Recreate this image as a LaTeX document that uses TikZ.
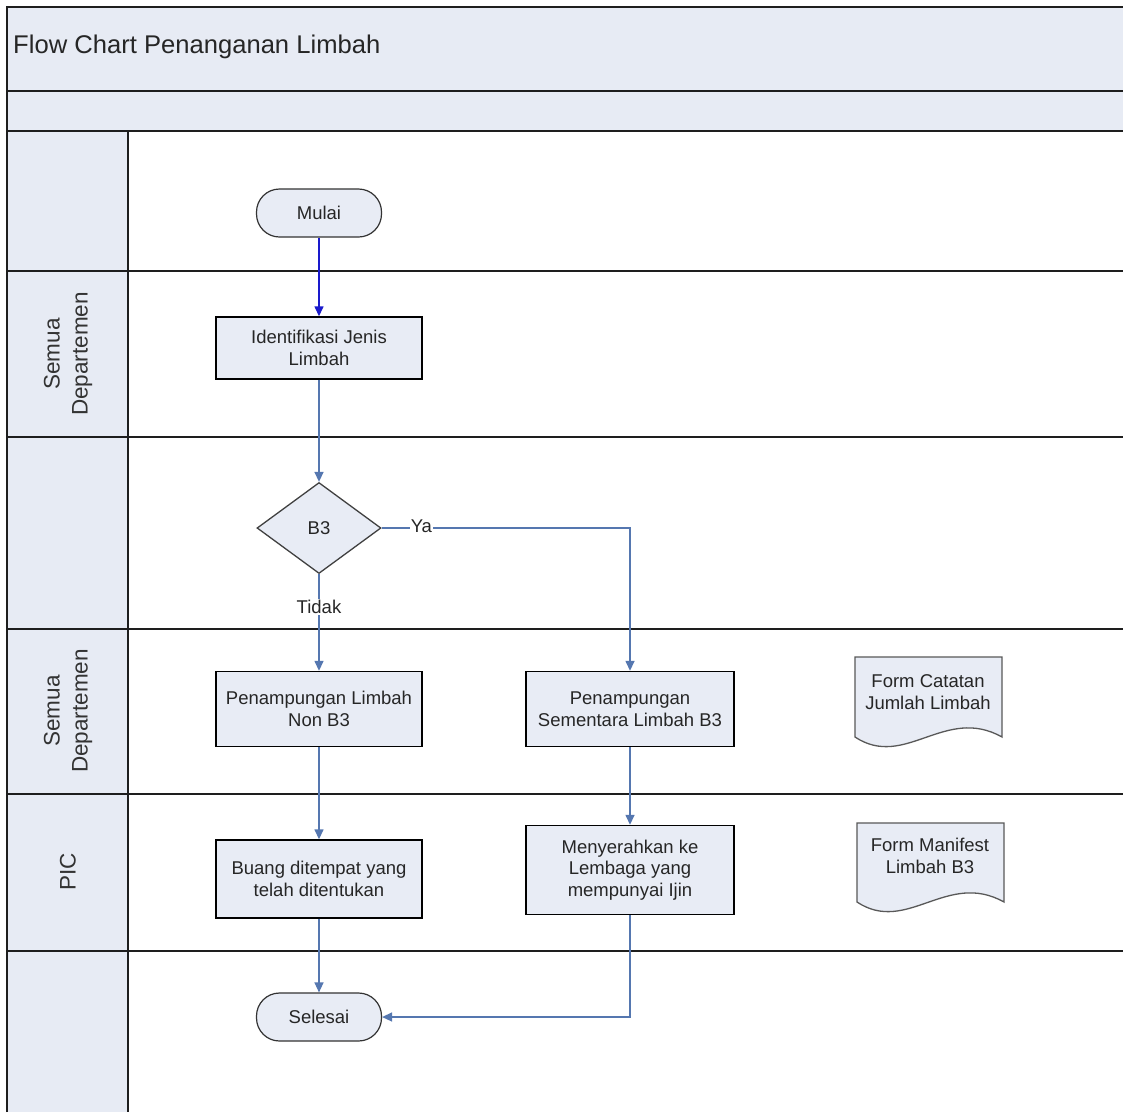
\documentclass[tikz,border=0pt]{standalone}
\usepackage{fontspec}
\setmainfont{Liberation Sans}
\usetikzlibrary{arrows.meta,shapes.geometric}
\definecolor{hdr}{HTML}{E7EBF4}
\definecolor{nodefill}{HTML}{E8ECF5}
\definecolor{conn}{HTML}{5577B0}
\definecolor{startconn}{HTML}{1A1ACC}
\definecolor{lanecol}{HTML}{1E1E1E}
\definecolor{txt}{HTML}{262626}
\begin{document}
\begin{tikzpicture}[x=1pt,y=-1pt,
  lane/.style={draw=lanecol,line width=2pt},
  nodefont/.style={font=\fontsize{18.5}{21.5}\selectfont,text=txt},
  procbox/.style={nodefont,draw=black,fill=nodefill,line width=1.4pt,minimum width=206pt,minimum height=62pt,align=center,inner sep=2pt},
  term/.style={nodefont,draw=black!80,fill=nodefill,line width=1.2pt,rounded corners=23pt,minimum width=125pt,minimum height=48pt},
  decision/.style={nodefont,diamond,draw=black!75,fill=nodefill,line width=1.3pt,minimum width=124pt,minimum height=91pt,inner sep=0pt},
  flow/.style={draw=conn,line width=1.4pt,-{Triangle[length=10pt,width=9pt]}},
  lbl/.style={nodefont,fill=white,inner sep=1pt},
  lanetext/.style={rotate=90,align=center,font=\fontsize{22.5}{28}\selectfont,text=black!80},
  doctext/.style={nodefont,align=center,inner sep=0pt},
  docshape/.style={draw=black!65,fill=nodefill,line width=1.3pt}
]
\useasboundingbox (0,0) rectangle (1123,1112);
\fill[white] (0,0) rectangle (1123,1112);
% header areas
\fill[hdr] (7,7) rectangle (1123,131);
\fill[hdr] (7,131) rectangle (128,1112);
% frame and lanes
\draw[lane] (7,1112) -- (7,7) -- (1123,7);
\foreach \yy in {91,131,271,437,629,794,951}
  \draw[lane] (7,\yy) -- (1123,\yy);
\draw[lane] (128,131) -- (128,1112);
% title
\node[anchor=west,font=\fontsize{25.6}{30}\selectfont,text=txt,inner sep=0pt] (title) at (13,47) {Flow Chart Penanganan Limbah};
% lane labels
\node[lanetext] (lane1) at (68,354) {Semua\\Departemen};
\node[lanetext] (lane2) at (68,711) {Semua\\Departemen};
\node[lanetext] (lane3) at (68,872) {PIC};
% nodes
\node[term] (mulai) at (319,213) {Mulai};
\node[procbox] (ident) at (319,348) {Identifikasi Jenis\\Limbah};
\node[decision] (b3) at (319,528) {B3};
\node[procbox,minimum height=75pt] (nonb3) at (319,709) {Penampungan Limbah\\Non B3};
\node[procbox,minimum width=208pt,minimum height=75pt] (sem) at (630,709) {Penampungan\\Sementara Limbah B3};
\node[procbox,minimum height=78pt] (buang) at (319,879) {Buang ditempat yang\\telah ditentukan};
\node[procbox,minimum width=208pt,minimum height=89pt] (menyer) at (630,870) {Menyerahkan ke\\Lembaga yang\\mempunyai Ijin};
\node[term] (selesai) at (319,1017) {Selesai};
% documents
\draw[docshape] (855,737) -- (855,657) -- (1002,657) -- (1002,737) .. controls (945,705) and (905,770) .. (855,737) -- cycle;
\node[doctext] (doc1) at (928,692) {Form Catatan\\Jumlah Limbah};
\draw[docshape] (857,902) -- (857,823) -- (1004,823) -- (1004,902) .. controls (947,870) and (907,935) .. (857,902) -- cycle;
\node[doctext] (doc2) at (930,856) {Form Manifest\\Limbah B3};
% connectors
\draw[flow,draw=startconn] (mulai) -- (ident);
\draw[flow] (ident) -- (b3);
\draw[flow] (b3.east) -| node[lbl,pos=0.08,yshift=2pt] {Ya} (sem.north);
\draw[flow] (b3.south) -- node[lbl,pos=0.34] {Tidak} (nonb3.north);
\draw[flow] (nonb3) -- (buang);
\draw[flow] (sem) -- (menyer);
\draw[flow] (buang) -- (selesai);
\draw[flow] (menyer.south) |- (selesai.east);
\end{tikzpicture}
\end{document}
